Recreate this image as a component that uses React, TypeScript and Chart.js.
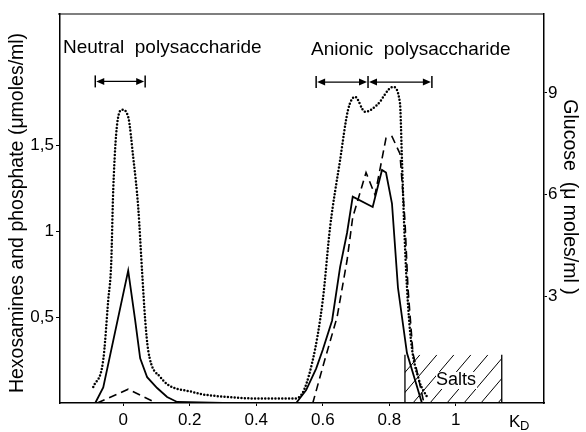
import React, { useEffect, useRef } from "react";
import { Chart, registerables } from "chart.js";
Chart.register(...registerables);

// ---- Data ----
const xTickValues = [0, 0.2, 0.4, 0.6, 0.8, 1];
const xTickLabels = ["0", "0.2", "0.4", "0.6", "0.8", "1"];
const leftTickValues = [0.5, 1, 1.5];
const leftTickLabels = ["0,5", "1", "1,5"];
const rightTickValues = [3, 6, 9];
const rightTickLabels = ["3", "6", "9"];

// Hexosamines (solid, left axis)
const hexX = [-0.084, -0.06, 0.015, 0.036, 0.051, 0.072, 0.102, 0.132, 0.162, 0.3, 0.52, 0.55, 0.58, 0.6, 0.628, 0.652, 0.673, 0.69, 0.75, 0.778, 0.79, 0.808, 0.826, 0.853, 0.898];
const hexY = [0, 0.09, 0.77, 0.48, 0.26, 0.15, 0.087, 0.035, 0.006, 0, 0, 0.075, 0.2, 0.31, 0.48, 0.79, 0.99, 1.2, 1.14, 1.355, 1.34, 1.16, 0.67, 0.29, 0];

// Phosphate (dashed, left axis)
const phoX = [-0.078, 0.015, 0.1, 0.57, 0.6, 0.643, 0.673, 0.69, 0.73, 0.757, 0.79, 0.808, 0.832, 0.847, 0.856, 0.871, 0.904];
const phoY = [0, 0.08, 0, 0, 0.21, 0.5, 0.83, 1.08, 1.34, 1.21, 1.54, 1.55, 1.45, 1.06, 0.67, 0.29, 0];

// Glucose (dotted, right axis)
const gluX = [-0.09, -0.06, -0.045, -0.036, -0.03, -0.018, -0.003, 0.015, 0.03, 0.045, 0.057, 0.066, 0.075, 0.111, 0.21, 0.31, 0.41, 0.51, 0.53, 0.57, 0.6, 0.622, 0.652, 0.676, 0.697, 0.727, 0.763, 0.811, 0.832, 0.838, 0.844, 0.853, 0.865, 0.889, 0.916];
const gluY = [0.34, 1.14, 2.9, 4.0, 6.14, 8.1, 8.5, 8.29, 7.11, 5.64, 3.7, 2.32, 1.43, 0.64, 0.19, 0.05, 0.0, 0.0, 0.05, 1.14, 2.9, 5.05, 7.02, 8.5, 8.88, 8.44, 8.64, 9.17, 8.7, 7.02, 5.25, 3.28, 1.72, 0.55, 0];

// Annotations (data units)
const neutralBars = [-0.084, 0.066];
const neutralArrowY = 1.87;
const anionicBars = [0.58, 0.736, 0.928];
const anionicArrowY = 1.866;
const saltsRange = [0.847, 1.138];
const saltsTop = 0.28;

const xRange = [-0.19, 1.265];
const leftRange = [0, 2.262];
const rightRange = [-0.13, 11.32];

const FONT = "'Liberation Sans', Arial, sans-serif";

const toPts = (xs: number[], ys: number[]) => xs.map((x, i) => ({ x, y: ys[i] }));

const annotPlugin = {
  id: "annot",
  afterDraw(chart: any) {
    const ctx = chart.ctx;
    const xs = chart.scales.x;
    const ys = chart.scales.y;
    const ca = chart.chartArea;
    ctx.save();
    ctx.strokeStyle = "#000";
    ctx.fillStyle = "#000";
    // top frame line
    ctx.lineWidth = 1.2;
    ctx.beginPath();
    ctx.moveTo(ca.left - 2, ca.top);
    ctx.lineTo(ca.right, ca.top);
    ctx.stroke();

    // arrows
    const drawArrow = (x1: number, x2: number, y: number) => {
      const head = 8, hh = 3.5;
      ctx.lineWidth = 1.3;
      ctx.beginPath();
      ctx.moveTo(x1 + head, y);
      ctx.lineTo(x2 - head, y);
      ctx.stroke();
      ctx.beginPath();
      ctx.moveTo(x1 + 1, y);
      ctx.lineTo(x1 + 1 + head, y - hh);
      ctx.lineTo(x1 + 1 + head, y + hh);
      ctx.closePath();
      ctx.fill();
      ctx.beginPath();
      ctx.moveTo(x2 - 1, y);
      ctx.lineTo(x2 - 1 - head, y - hh);
      ctx.lineTo(x2 - 1 - head, y + hh);
      ctx.closePath();
      ctx.fill();
    };
    const drawBars = (bars: number[], yv: number) => {
      const y = ys.getPixelForValue(yv);
      const px = bars.map((b) => xs.getPixelForValue(b));
      ctx.lineWidth = 1.5;
      px.forEach((p) => {
        ctx.beginPath();
        ctx.moveTo(p, y - 6);
        ctx.lineTo(p, y + 6);
        ctx.stroke();
      });
      for (let i = 0; i < px.length - 1; i++) drawArrow(px[i], px[i + 1], y);
    };
    drawBars(neutralBars, neutralArrowY);
    drawBars(anionicBars, anionicArrowY);

    // salts hatch
    const sx1 = xs.getPixelForValue(saltsRange[0]);
    const sx2 = xs.getPixelForValue(saltsRange[1]);
    const sy1 = ys.getPixelForValue(saltsTop);
    const sy2 = ys.getPixelForValue(0);
    ctx.lineWidth = 1.3;
    ctx.beginPath();
    ctx.moveTo(sx1, sy1);
    ctx.lineTo(sx1, sy2);
    ctx.moveTo(sx2, sy1);
    ctx.lineTo(sx2, sy2);
    ctx.stroke();
    ctx.save();
    ctx.beginPath();
    ctx.rect(sx1, sy1, sx2 - sx1, sy2 - sy1);
    ctx.clip();
    ctx.lineWidth = 1;
    const h = sy2 - sy1;
    for (let bx = sx1 - 60; bx < sx2 + 60; bx += 17) {
      ctx.beginPath();
      ctx.moveTo(bx, sy2);
      ctx.lineTo(bx + h * 0.85, sy1);
      ctx.stroke();
    }
    ctx.restore();
    ctx.fillStyle = "#fff";
    ctx.fillRect(436, 372, 41, 17);
    ctx.fillStyle = "#000";
    ctx.font = `18px ${FONT}`;
    ctx.textAlign = "center";
    ctx.textBaseline = "middle";
    ctx.fillText("Salts", 456, 380);

    // top labels
    ctx.font = `19px ${FONT}`;
    ctx.textAlign = "left";
    ctx.fillText("Neutral  polysaccharide", 63, 48);
    ctx.fillText("Anionic  polysaccharide", 311, 50);

    // axis titles
    ctx.save();
    ctx.translate(18, 213);
    ctx.rotate(-Math.PI / 2);
    ctx.textAlign = "center";
    ctx.font = `19.5px ${FONT}`;
    ctx.fillText("Hexosamines and phosphate (\u03bcmoles/ml)", 0, 0);
    ctx.restore();
    ctx.save();
    ctx.translate(569, 197);
    ctx.rotate(Math.PI / 2);
    ctx.textAlign = "center";
    ctx.font = `19.5px ${FONT}`;
    ctx.fillText("Glucose  (\u03bc moles/ml )", 0, 0);
    ctx.restore();

    // KD
    ctx.textAlign = "left";
    ctx.font = `17px ${FONT}`;
    ctx.fillText("K", 509, 422);
    ctx.font = `13px ${FONT}`;
    ctx.fillText("D", 520, 426);
    ctx.restore();
  },
};

export default function App() {
  const ref = useRef<HTMLCanvasElement | null>(null);
  useEffect(() => {
    document.body.style.margin = "0";
    const canvas = ref.current;
    if (!canvas) return;
    const tickFont = { family: FONT, size: 17 };
    const chart = new Chart(canvas, {
      type: "line",
      data: {
        datasets: [
          {
            label: "Hexosamines",
            data: toPts(hexX, hexY),
            borderColor: "#000",
            borderWidth: 1.8,
            pointRadius: 0,
            tension: 0,
            yAxisID: "y",
          },
          {
            label: "Phosphate",
            data: toPts(phoX, phoY),
            borderColor: "#000",
            borderWidth: 1.6,
            borderDash: [8, 5],
            pointRadius: 0,
            tension: 0,
            yAxisID: "y",
          },
          {
            label: "Glucose",
            data: toPts(gluX, gluY),
            borderColor: "#000",
            borderWidth: 2.5,
            borderDash: [0, 3.4],
            borderCapStyle: "round",
            pointRadius: 0,
            cubicInterpolationMode: "monotone",
            yAxisID: "y1",
          },
        ],
      } as any,
      options: {
        animation: false,
        responsive: false,
        maintainAspectRatio: false,
        layout: { padding: { top: 14, left: 0, right: 0, bottom: 0 } },
        plugins: { legend: { display: false }, tooltip: { enabled: false } },
        scales: {
          x: {
            type: "linear",
            min: xRange[0],
            max: xRange[1],
            afterBuildTicks: (s: any) => {
              s.ticks = xTickValues.map((v) => ({ value: v }));
            },
            afterFit: (s: any) => {
              s.height = 29;
            },
            ticks: {
              color: "#000",
              font: tickFont,
              padding: 4,
              maxRotation: 0,
              autoSkip: false,
              callback: (v: any) => {
                const i = xTickValues.indexOf(Number(v));
                return i >= 0 ? xTickLabels[i] : "";
              },
            },
            grid: { display: true, drawOnChartArea: false, color: "#000", tickLength: 3 },
            border: { display: true, color: "#000", width: 1.5 },
          },
          y: {
            type: "linear",
            position: "left",
            min: leftRange[0],
            max: leftRange[1],
            afterBuildTicks: (s: any) => {
              s.ticks = leftTickValues.map((v) => ({ value: v }));
            },
            afterFit: (s: any) => {
              s.width = 60;
            },
            ticks: {
              color: "#000",
              font: tickFont,
              padding: 2,
              autoSkip: false,
              callback: (v: any) => {
                const i = leftTickValues.indexOf(Number(v));
                return i >= 0 ? leftTickLabels[i] : "";
              },
            },
            grid: { display: true, drawOnChartArea: false, color: "#000", tickLength: 4 },
            border: { display: true, color: "#000", width: 1.5 },
          },
          y1: {
            type: "linear",
            position: "right",
            min: rightRange[0],
            max: rightRange[1],
            afterBuildTicks: (s: any) => {
              s.ticks = rightTickValues.map((v) => ({ value: v }));
            },
            afterFit: (s: any) => {
              s.width = 42;
            },
            ticks: {
              color: "#000",
              font: tickFont,
              padding: 1,
              autoSkip: false,
              callback: (v: any) => {
                const i = rightTickValues.indexOf(Number(v));
                return i >= 0 ? rightTickLabels[i] : "";
              },
            },
            grid: { display: true, drawOnChartArea: false, color: "#000", tickLength: 3 },
            border: { display: true, color: "#000", width: 1.5 },
          },
        },
      } as any,
      plugins: [annotPlugin],
    });
    return () => chart.destroy();
  }, []);
  return <canvas ref={ref} width={586} height={432} style={{ display: "block" }} />;
}
